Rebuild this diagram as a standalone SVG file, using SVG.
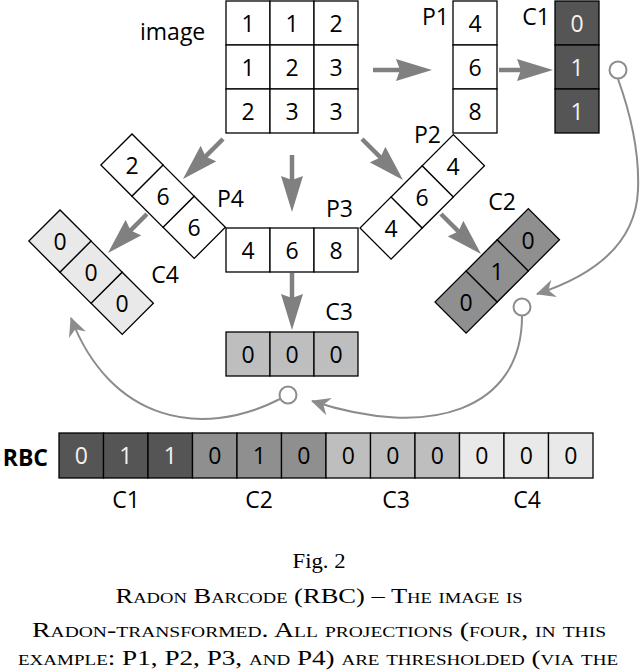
<svg xmlns="http://www.w3.org/2000/svg" width="640" height="671" viewBox="0 0 640 671">
<defs>
<style>
.c{stroke:#000;stroke-width:1.3}
.w{fill:#fff}
.k1{fill:#555}
.k2{fill:#8f8f8f}
.k3{fill:#bebebe}
.k4{fill:#e9e9e9}
.t{font-family:"Open Sans","DejaVu Sans",sans-serif;font-size:23px;fill:#000;text-anchor:middle}
.tw{fill:#f2f2f2}
.lb{font-family:"Open Sans","DejaVu Sans",sans-serif;font-size:23px;fill:#000}
.ar{stroke:#808080;stroke-width:4.5;fill:none}
.cv{stroke:#8c8c8c;stroke-width:2;fill:none}
.ci{stroke:#8c8c8c;stroke-width:2;fill:#fff}
.cap{font-family:"Liberation Serif","Times New Roman",serif;font-size:20px;fill:#000;text-anchor:middle}
</style>
<marker id="big" markerUnits="userSpaceOnUse" viewBox="0 0 36 22" markerWidth="36" markerHeight="22" refX="16" refY="11" orient="auto">
<path d="M0,0 L36,11 L0,22 L4,11 Z" fill="#808080"/>
</marker>
<marker id="sm" markerUnits="userSpaceOnUse" viewBox="-20 -10 22 20" markerWidth="22" markerHeight="20" refX="0" refY="0" orient="auto">
<path d="M1,0 L-18,-9 L-12,0 L-18,9 Z" fill="#8c8c8c"/>
</marker>
</defs>

<g id="connectors">
<line class="ar" x1="373" y1="70" x2="412" y2="70" marker-end="url(#big)"/>
<line class="ar" x1="499" y1="70" x2="533" y2="70" marker-end="url(#big)"/>
<line class="ar" x1="292" y1="155" x2="292" y2="192" marker-end="url(#big)"/>
<line class="ar" x1="292" y1="273" x2="292" y2="310" marker-end="url(#big)"/>
<line class="ar" x1="223" y1="139" x2="197.1" y2="164.9" marker-end="url(#big)"/>
<line class="ar" x1="147" y1="214" x2="122.1" y2="238.9" marker-end="url(#big)"/>
<line class="ar" x1="362" y1="139" x2="388.9" y2="165.9" marker-end="url(#big)"/>
<line class="ar" x1="441" y1="214" x2="466.9" y2="239.9" marker-end="url(#big)"/>
<path class="cv" d="M618,79 Q640,140 638,190 Q635,262 537,294" marker-end="url(#sm)"/>
<circle class="ci" cx="618" cy="70" r="8.5"/>
<path class="cv" d="M522,316 C522,410 430,440 312,401" marker-end="url(#sm)"/>
<circle class="ci" cx="522" cy="307" r="8.5"/>
<path class="cv" d="M280,399 C200,440 110,420 71,318" marker-end="url(#sm)"/>
<circle class="ci" cx="288" cy="395" r="8.5"/>
</g>

<g id="image">
<text class="lb" x="140" y="40">image</text>
<rect class="c w" x="226" y="1" width="44" height="44"/>
<rect class="c w" x="270" y="1" width="44" height="44"/>
<rect class="c w" x="314" y="1" width="44" height="44"/>
<rect class="c w" x="226" y="45" width="44" height="44"/>
<rect class="c w" x="270" y="45" width="44" height="44"/>
<rect class="c w" x="314" y="45" width="44" height="44"/>
<rect class="c w" x="226" y="89" width="44" height="44"/>
<rect class="c w" x="270" y="89" width="44" height="44"/>
<rect class="c w" x="314" y="89" width="44" height="44"/>
<text class="t" x="248" y="31.5">1</text><text class="t" x="292" y="31.5">1</text><text class="t" x="336" y="31.5">2</text>
<text class="t" x="248" y="75.5">1</text><text class="t" x="292" y="75.5">2</text><text class="t" x="336" y="75.5">3</text>
<text class="t" x="248" y="119.5">2</text><text class="t" x="292" y="119.5">3</text><text class="t" x="336" y="119.5">3</text>
</g>

<g id="P1">
<text class="lb" x="449" y="25" text-anchor="end">P1</text>
<rect class="c w" x="453" y="1" width="44" height="44"/>
<rect class="c w" x="453" y="45" width="44" height="44"/>
<rect class="c w" x="453" y="89" width="44" height="44"/>
<text class="t" x="475" y="31.5">4</text><text class="t" x="475" y="75.5">6</text><text class="t" x="475" y="119.5">8</text>
</g>

<g id="C1">
<text class="lb" x="550" y="25" text-anchor="end">C1</text>
<rect class="c k1" x="555" y="1" width="44" height="44"/>
<rect class="c k1" x="555" y="45" width="44" height="44"/>
<rect class="c k1" x="555" y="89" width="44" height="44"/>
<text class="t tw" x="577" y="31.5">0</text><text class="t tw" x="577" y="75.5">1</text><text class="t tw" x="577" y="119.5">1</text>
</g>

<g id="P2">
<text class="lb" x="441" y="143" text-anchor="end">P2</text>
<g transform="translate(360,228) rotate(-45)">
<rect class="c w" x="0" y="0" width="44" height="44"/>
<rect class="c w" x="44" y="0" width="44" height="44"/>
<rect class="c w" x="88" y="0" width="44" height="44"/>
</g>
<text class="t" x="391" y="236.5">4</text><text class="t" x="422" y="205.5">6</text><text class="t" x="453" y="174.5">4</text>
</g>

<g id="C2">
<text class="lb" x="516" y="210" text-anchor="end">C2</text>
<g transform="translate(435,302) rotate(-45)">
<rect class="c k2" x="0" y="0" width="44" height="44"/>
<rect class="c k2" x="44" y="0" width="44" height="44"/>
<rect class="c k2" x="88" y="0" width="44" height="44"/>
</g>
<text class="t" x="466" y="310.5">0</text><text class="t" x="497" y="279.5">1</text><text class="t" x="528" y="248.5">0</text>
</g>

<g id="P3">
<text class="lb" x="353" y="217" text-anchor="end">P3</text>
<rect class="c w" x="226" y="228" width="44" height="44"/>
<rect class="c w" x="270" y="228" width="44" height="44"/>
<rect class="c w" x="314" y="228" width="44" height="44"/>
<text class="t" x="248" y="258.5">4</text><text class="t" x="292" y="258.5">6</text><text class="t" x="336" y="258.5">8</text>
</g>

<g id="C3">
<text class="lb" x="353" y="320" text-anchor="end">C3</text>
<rect class="c k3" x="226" y="332" width="44" height="44"/>
<rect class="c k3" x="270" y="332" width="44" height="44"/>
<rect class="c k3" x="314" y="332" width="44" height="44"/>
<text class="t" x="248" y="362.5">0</text><text class="t" x="292" y="362.5">0</text><text class="t" x="336" y="362.5">0</text>
</g>

<g id="P4">
<text class="lb" x="244" y="207" text-anchor="end">P4</text>
<g transform="translate(132,134) rotate(45)">
<rect class="c w" x="0" y="0" width="44" height="44"/>
<rect class="c w" x="44" y="0" width="44" height="44"/>
<rect class="c w" x="88" y="0" width="44" height="44"/>
</g>
<text class="t" x="132" y="173.5">2</text><text class="t" x="163" y="204.5">6</text><text class="t" x="194" y="235.5">6</text>
</g>

<g id="C4">
<text class="lb" x="179" y="283" text-anchor="end">C4</text>
<g transform="translate(60,210) rotate(45)">
<rect class="c k4" x="0" y="0" width="44" height="44"/>
<rect class="c k4" x="44" y="0" width="44" height="44"/>
<rect class="c k4" x="88" y="0" width="44" height="44"/>
</g>
<text class="t" x="60" y="249.5">0</text><text class="t" x="91" y="280.5">0</text><text class="t" x="122" y="311.5">0</text>
</g>

<g id="RBC">
<text class="lb" x="48" y="466" text-anchor="end" font-weight="bold">RBC</text>
<rect class="c k1" x="59" y="433" width="44.5" height="45"/>
<rect class="c k1" x="103.5" y="433" width="44.5" height="45"/>
<rect class="c k1" x="148" y="433" width="44.5" height="45"/>
<rect class="c k2" x="192.5" y="433" width="44.5" height="45"/>
<rect class="c k2" x="237" y="433" width="44.5" height="45"/>
<rect class="c k2" x="281.5" y="433" width="44.5" height="45"/>
<rect class="c k3" x="326" y="433" width="44.5" height="45"/>
<rect class="c k3" x="370.5" y="433" width="44.5" height="45"/>
<rect class="c k3" x="415" y="433" width="44.5" height="45"/>
<rect class="c k4" x="459.5" y="433" width="44.5" height="45"/>
<rect class="c k4" x="504" y="433" width="44.5" height="45"/>
<rect class="c k4" x="548.5" y="433" width="44.5" height="45"/>
<text class="t tw" x="81.3" y="464">0</text>
<text class="t tw" x="125.8" y="464">1</text>
<text class="t tw" x="170.3" y="464">1</text>
<text class="t" x="214.8" y="464">0</text>
<text class="t" x="259.3" y="464">1</text>
<text class="t" x="303.8" y="464">0</text>
<text class="t" x="348.3" y="464">0</text>
<text class="t" x="392.8" y="464">0</text>
<text class="t" x="437.3" y="464">0</text>
<text class="t" x="481.8" y="464">0</text>
<text class="t" x="526.3" y="464">0</text>
<text class="t" x="570.8" y="464">0</text>
<text class="t" x="126" y="508">C1</text>
<text class="t" x="259" y="508">C2</text>
<text class="t" x="396" y="508">C3</text>
<text class="t" x="527" y="508">C4</text>
</g>

<g id="caption">
<text class="cap" x="319" y="568" textLength="53" lengthAdjust="spacingAndGlyphs">Fig. 2</text>
<text class="cap" x="319" y="603" font-variant="small-caps" textLength="407" lengthAdjust="spacingAndGlyphs">Radon Barcode (RBC) – The image is</text>
<text class="cap" x="319" y="637" font-variant="small-caps" textLength="574" lengthAdjust="spacingAndGlyphs">Radon-transformed. All projections (four, in this</text>
<text class="cap" x="318" y="665" font-variant="small-caps" textLength="600" lengthAdjust="spacingAndGlyphs">example: P1, P2, P3, and P4) are thresholded (via the</text>
</g>
</svg>
